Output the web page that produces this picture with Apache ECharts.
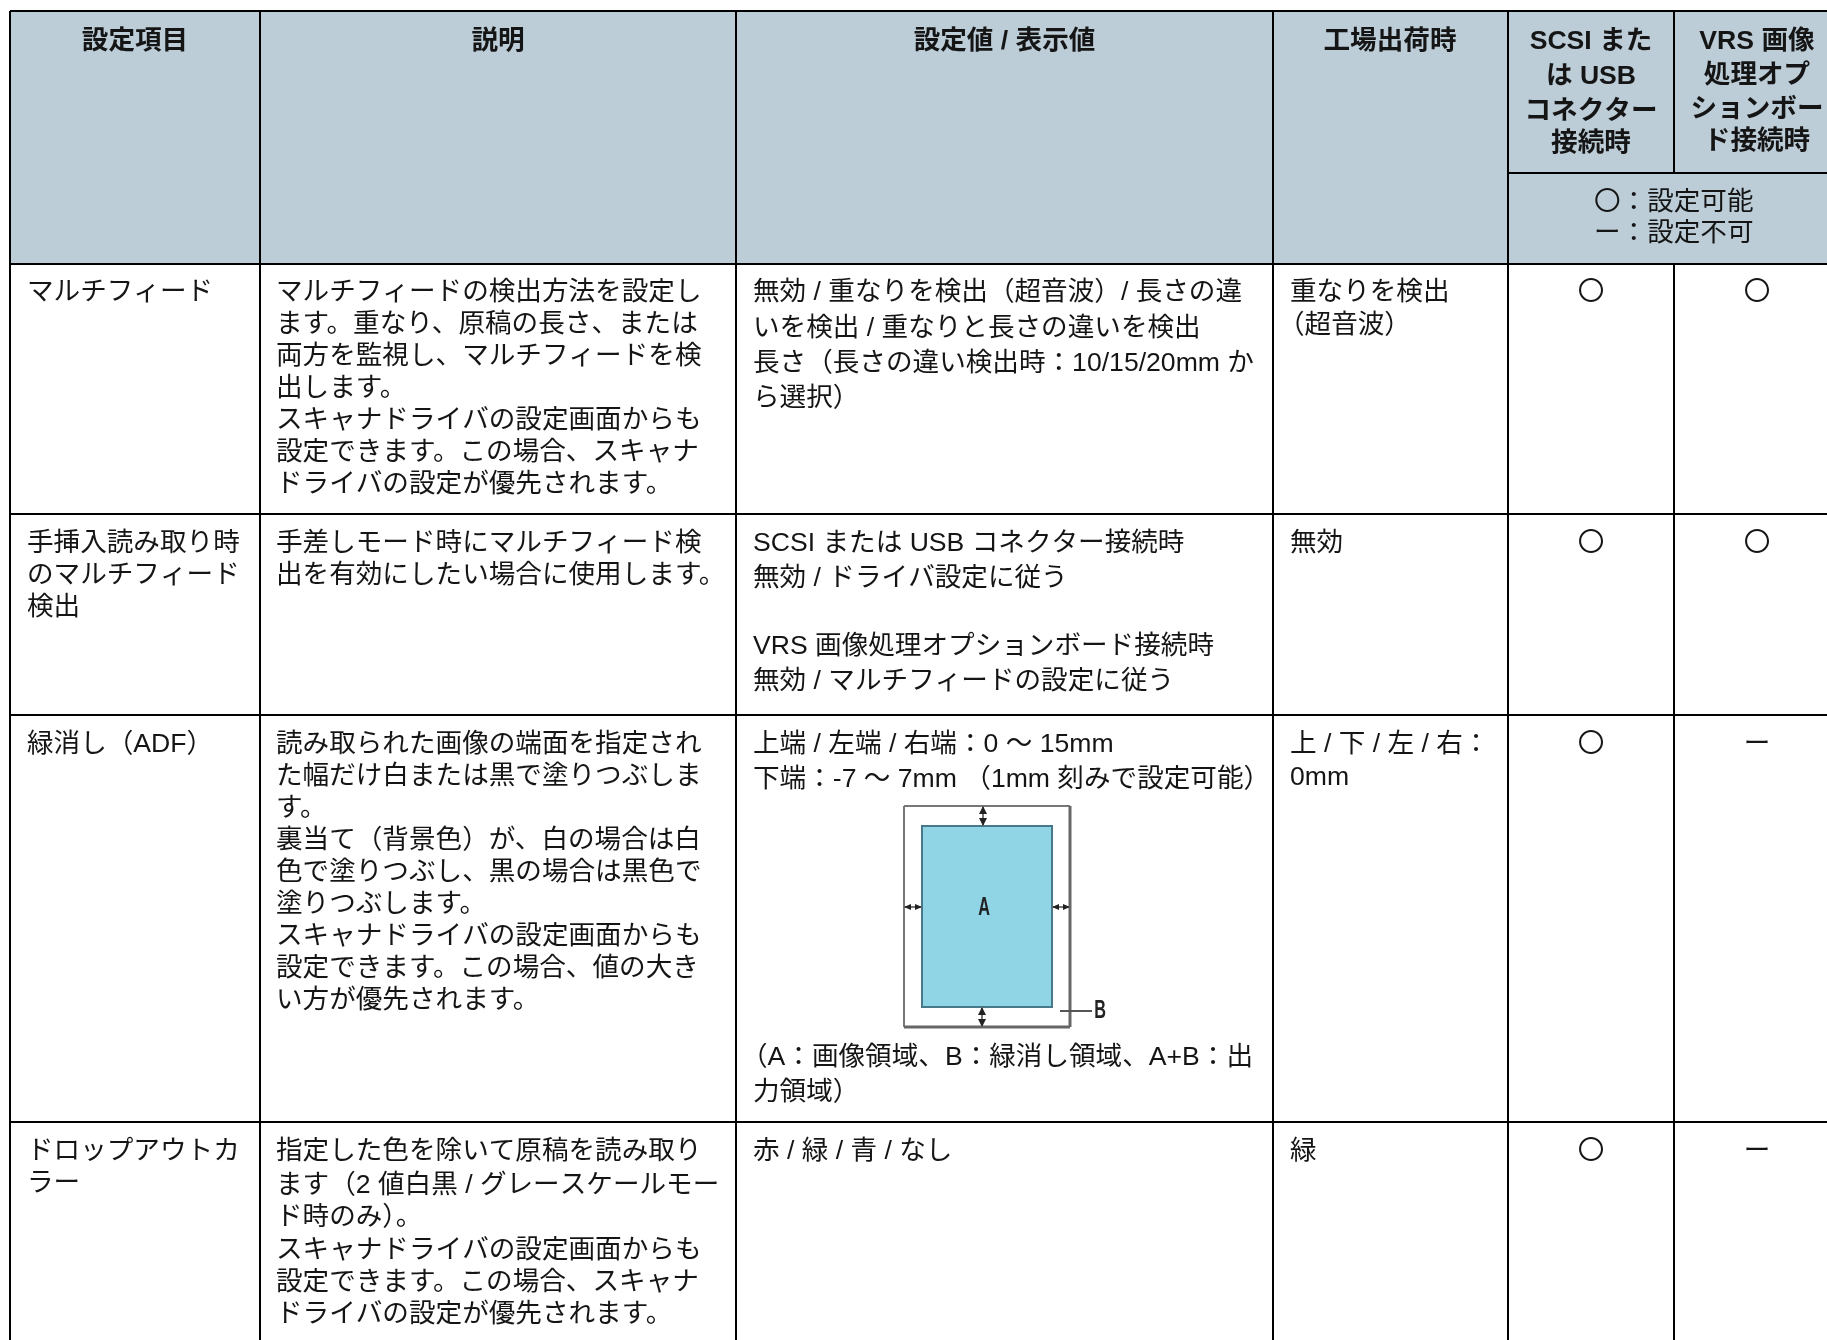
<!DOCTYPE html>
<html><head><meta charset="utf-8">
<style>html,body{margin:0;padding:0;background:#fff}#c{width:1827px;height:1340px}</style>
<script src="https://cdn.jsdelivr.net/npm/echarts@6/dist/echarts.min.js"></script>
</head><body><div id="c"></div>
<script>
// ---- table content ----
const headerTitles = ['設定項目', '説明', '設定値 / 表示値', '工場出荷時'];
const headerScsi = ['SCSI また', 'は USB', 'コネクター', '接続時'];
const headerVrs = ['VRS 画像', '処理オプ', 'ションボー', 'ド接続時'];
const legendLines = ['〇：設定可能', 'ー：設定不可'];

const settingNames = [
  ['マルチフィード'],
  ['手挿入読み取り時', 'のマルチフィード', '検出'],
  ['緑消し（ADF）'],
  ['ドロップアウトカ', 'ラー']
];
const descriptions = [
  ['マルチフィードの検出方法を設定し', 'ます。重なり、原稿の長さ、または', '両方を監視し、マルチフィードを検', '出します。', 'スキャナドライバの設定画面からも', '設定できます。この場合、スキャナ', 'ドライバの設定が優先されます。'],
  ['手差しモード時にマルチフィード検', '出を有効にしたい場合に使用します。'],
  ['読み取られた画像の端面を指定され', 'た幅だけ白または黒で塗りつぶしま', 'す。', '裏当て（背景色）が、白の場合は白', '色で塗りつぶし、黒の場合は黒色で', '塗りつぶします。', 'スキャナドライバの設定画面からも', '設定できます。この場合、値の大き', 'い方が優先されます。'],
  ['指定した色を除いて原稿を読み取り', 'ます（2 値白黒 / グレースケールモー', 'ド時のみ）。', 'スキャナドライバの設定画面からも', '設定できます。この場合、スキャナ', 'ドライバの設定が優先されます。']
];
const settingValues = [
  ['無効 / 重なりを検出（超音波）/ 長さの違', 'いを検出 / 重なりと長さの違いを検出', '長さ（長さの違い検出時：10/15/20mm か', 'ら選択）'],
  ['SCSI または USB コネクター接続時', '無効 / ドライバ設定に従う', '', 'VRS 画像処理オプションボード接続時', '無効 / マルチフィードの設定に従う'],
  ['上端 / 左端 / 右端：0 〜 15mm', '下端：-7 〜 7mm （1mm 刻みで設定可能）'],
  ['赤 / 緑 / 青 / なし']
];
const valueNotes = ['（A：画像領域、B：緑消し領域、A+B：出', '力領域）'];
const factoryDefaults = [
  ['重なりを検出', '（超音波）'],
  ['無効'],
  ['上 / 下 / 左 / 右：', '0mm'],
  ['緑']
];
const scsiMarks = ['〇', '〇', '〇', '〇'];
const vrsMarks = ['〇', '〇', 'ー', 'ー'];

// ---- layout (in page units, fed through the value axes) ----
const colX = [10, 260, 736, 1273, 1508, 1674];
const rowY = [11, 264, 514, 715, 1122, 1340];
const subHeaderY = 173;
const pageW = 1827, pageH = 1340;
const colCenter = [135, 498, 1004.5, 1390, 1591, 1757];
const textLeft = [27, 276, 753, 1290];
const firstLine = [293, 544, 744.5, 1152];
const linePitch = [32, 32, 33];
const valuePitch = [35.3, 34.3, 35, 35];
const descGapsRow4 = [0, 34, 66, 99, 131, 163];
const headerTextY = 42;
const scsiHeaderY = [42, 76.5, 112, 144];
const vrsHeaderY = [42, 76, 109.5, 142];
const legendLeft = 1594;
const legendY = [203, 234];
const noteY = [1058, 1093];
const parenShift = 12;

const diagramOuter = [904, 806, 1070, 1027];
const diagramBlue = [922, 826, 1052, 1007];
const arrowsV = [[983, 806, 826], [982, 1007, 1027]];
const arrowsH = [[907, 904, 922], [907, 1052, 1070]];
const leader = [1060, 1011, 1092, 1011];
const diagramLabels = [['A', 984, 908], ['B', 1100, 1011]];

// ---- assemble ----
const FF = '"Liberation Sans","Noto Sans CJK JP",sans-serif';
const SIZE = 26.6, INK = '#151515', LINE = '#000', HEAD = '#bccdd8';

const texts = [];
function add(s, x, y, align, bold) {
  if (!s) return;
  const dx = align === 'left' && s[0] === '（' ? parenShift : 0;
  texts.push({ s, x: x - dx, y, align, bold });
}
headerTitles.forEach((s, i) => add(s, colCenter[i], headerTextY, 'center', true));
headerScsi.forEach((s, i) => add(s, colCenter[4], scsiHeaderY[i], 'center', true));
headerVrs.forEach((s, i) => add(s, colCenter[5], vrsHeaderY[i], 'center', true));
legendLines.forEach((s, i) => add(s, legendLeft, legendY[i], 'left', false));
for (let r = 0; r < 4; r++) {
  settingNames[r].forEach((s, i) => add(s, textLeft[0], firstLine[r] + i * linePitch[0], 'left'));
  descriptions[r].forEach((s, i) => add(s, textLeft[1], firstLine[r] + (r === 3 ? descGapsRow4[i] : i * linePitch[1]), 'left'));
  settingValues[r].forEach((s, i) => add(s, textLeft[2], firstLine[r] + i * valuePitch[r], 'left'));
  factoryDefaults[r].forEach((s, i) => add(s, textLeft[3], firstLine[r] + i * linePitch[2], 'left'));
  add(scsiMarks[r], colCenter[4], firstLine[r], 'center');
  add(vrsMarks[r], colCenter[5], firstLine[r], 'center');
}
valueNotes.forEach((s, i) => add(s, textLeft[2], noteY[i], 'left'));

const hLines = [
  [colX[0], pageW, rowY[0]], [colX[0], pageW, rowY[1]], [colX[0], pageW, rowY[2]],
  [colX[0], pageW, rowY[3]], [colX[0], pageW, rowY[4]], [colX[4], pageW, subHeaderY]
];
const vLines = [
  [colX[0], rowY[0], pageH], [colX[1], rowY[0], pageH], [colX[2], rowY[0], pageH],
  [colX[3], rowY[0], pageH], [colX[4], rowY[0], pageH],
  [colX[5], rowY[0], subHeaderY], [colX[5], rowY[1], pageH]
];

const chart = echarts.init(document.getElementById('c'), null, { renderer: 'canvas' });
const P = (api, x, y) => api.coord([x, y]);
const seg = (api, x1, y1, x2, y2, stroke, w) => {
  const a = P(api, x1, y1), b = P(api, x2, y2);
  return { type: 'line', shape: { x1: a[0], y1: a[1], x2: b[0], y2: b[1] }, style: { stroke, lineWidth: w } };
};
const tri = (api, pts, fill) => ({ type: 'polygon', shape: { points: pts.map(p => P(api, p[0], p[1])) }, style: { fill } });

chart.setOption({
  animation: false,
  grid: { left: 0, right: 0, top: 0, bottom: 0 },
  xAxis: { type: 'value', min: 0, max: pageW, show: false },
  yAxis: { type: 'value', min: 0, max: pageH, inverse: true, show: false },
  series: [
    { // header fill
      type: 'custom', silent: true, z: 1, clip: false,
      data: [[colX[0], rowY[0], pageW, rowY[1]]],
      renderItem: (p, api) => {
        const a = api.coord([api.value(0), api.value(1)]), b = api.coord([api.value(2), api.value(3)]);
        return { type: 'rect', shape: { x: a[0], y: a[1], width: b[0] - a[0], height: b[1] - a[1] }, style: { fill: HEAD } };
      }
    },
    { // horizontal rules
      type: 'custom', silent: true, z: 3, clip: false, data: hLines,
      renderItem: (p, api) => seg(api, api.value(0), api.value(2), api.value(1), api.value(2), LINE, 2)
    },
    { // vertical rules
      type: 'custom', silent: true, z: 3, clip: false, data: vLines,
      renderItem: (p, api) => seg(api, api.value(0), api.value(1), api.value(0), api.value(2), LINE, 2)
    },
    { // margin diagram
      type: 'custom', silent: true, z: 4, clip: false, data: [[0]],
      renderItem: (p, api) => {
        const [ox1, oy1, ox2, oy2] = diagramOuter, [bx1, by1, bx2, by2] = diagramBlue;
        const a = P(api, bx1, by1), b = P(api, bx2, by2);
        const kids = [
          seg(api, ox1, oy1, ox2, oy1, '#777', 2), seg(api, ox1, oy1, ox1, oy2, '#777', 2),
          seg(api, ox2, oy1, ox2, oy2, '#666', 3), seg(api, ox1, oy2, ox2, oy2, '#666', 3),
          { type: 'rect', shape: { x: a[0], y: a[1], width: b[0] - a[0], height: b[1] - a[1] }, style: { fill: '#90d5e6', stroke: '#46798a', lineWidth: 2 } },
          seg(api, leader[0], leader[1], leader[2], leader[3], '#555', 2)
        ];
        arrowsV.forEach(([x, y1, y2]) => {
          kids.push(seg(api, x, y1, x, y2, '#777', 2));
          kids.push(tri(api, [[x, y1], [x - 4, y1 + 8], [x + 4, y1 + 8]], '#222'));
          kids.push(tri(api, [[x, y2], [x - 4, y2 - 8], [x + 4, y2 - 8]], '#222'));
        });
        arrowsH.forEach(([y, x1, x2]) => {
          kids.push(seg(api, x1, y, x2, y, '#777', 2));
          kids.push(tri(api, [[x1, y], [x1 + 7, y - 3], [x1 + 7, y + 3]], '#222'));
          kids.push(tri(api, [[x2, y], [x2 - 7, y - 3], [x2 - 7, y + 3]], '#222'));
        });
        diagramLabels.forEach(([s, x, y]) => {
          const q = P(api, x, y);
          kids.push({ type: 'text', scaleX: 0.65, x: q[0], y: q[1], style: { x: 0, y: 0, text: s, fill: '#222', font: 'bold 25px ' + FF, textAlign: 'center', textVerticalAlign: 'middle' } });
        });
        return { type: 'group', children: kids };
      }
    },
    { // all table text
      type: 'custom', silent: true, z: 5, clip: false,
      data: texts.map(t => [t.x, t.y]),
      renderItem: (p, api) => {
        const t = texts[p.dataIndex], q = api.coord([api.value(0), api.value(1)]);
        return { type: 'text', style: { x: q[0], y: q[1], text: t.s, fill: INK, font: (t.bold ? 'bold ' : '') + SIZE + 'px ' + FF, textAlign: t.align, textVerticalAlign: 'middle' } };
      }
    }
  ]
});
</script></body></html>
